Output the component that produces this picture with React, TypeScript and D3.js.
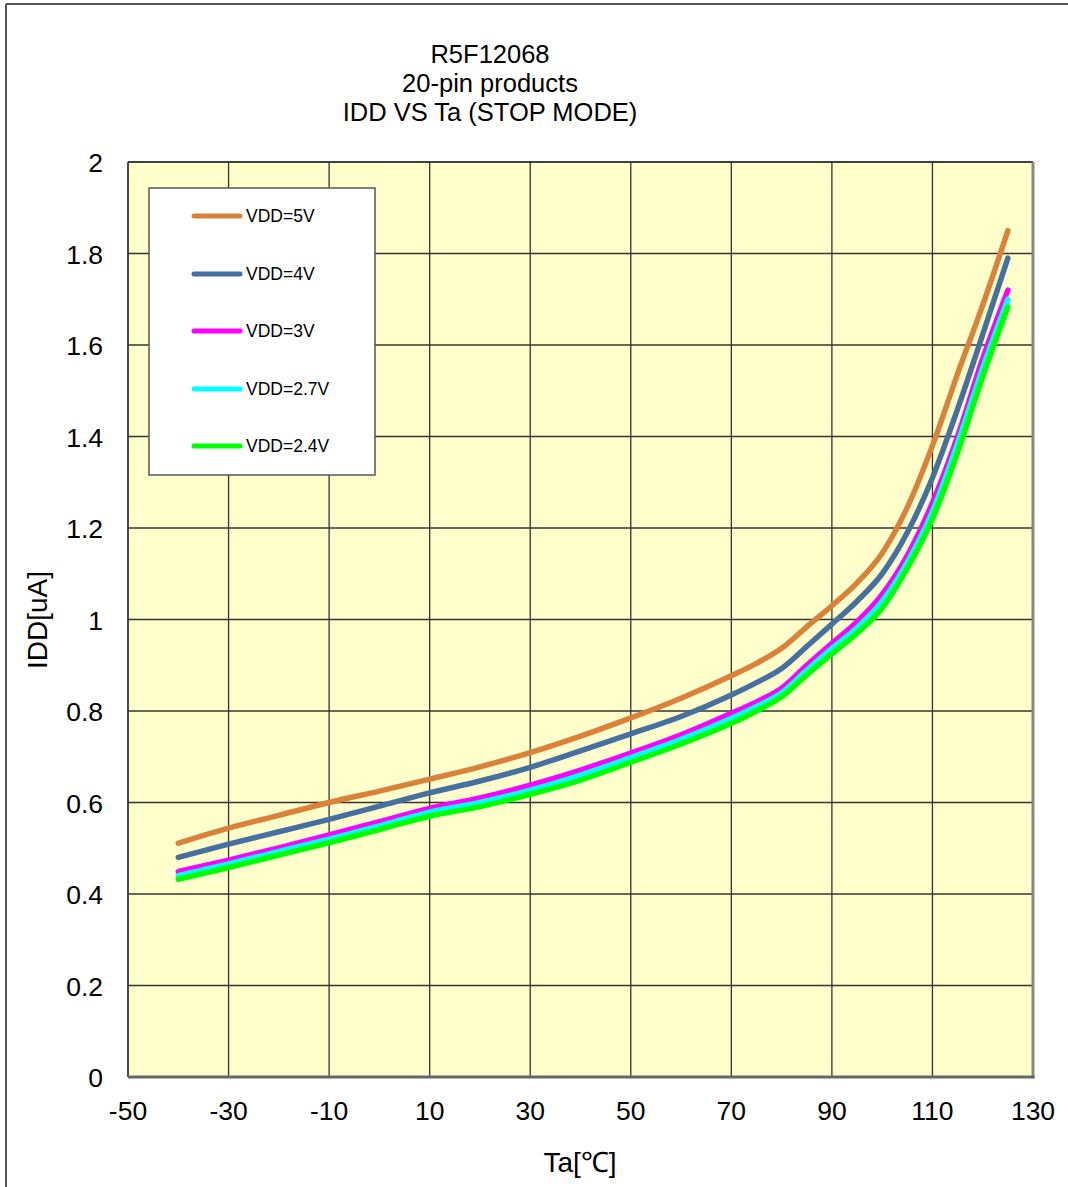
import React from "react";
import * as d3 from "d3";

const temps = [-40, -30, -20, -10, 0, 10, 20, 30, 40, 50, 60, 70, 75, 80, 85, 90, 95, 100, 105, 110, 115, 120, 125];
const vdd5 = [0.511, 0.544, 0.572, 0.600, 0.625, 0.651, 0.678, 0.709, 0.745, 0.785, 0.828, 0.877, 0.904, 0.937, 0.984, 1.03, 1.08, 1.145, 1.245, 1.38, 1.537, 1.687, 1.85];
const vdd4 = [0.480, 0.509, 0.536, 0.563, 0.592, 0.621, 0.647, 0.677, 0.713, 0.750, 0.788, 0.835, 0.862, 0.893, 0.941, 0.99, 1.04, 1.10, 1.19, 1.31, 1.46, 1.623, 1.79];
const vdd3 = [0.449, 0.474, 0.501, 0.529, 0.558, 0.587, 0.610, 0.638, 0.671, 0.708, 0.748, 0.795, 0.820, 0.850, 0.900, 0.948, 0.995, 1.055, 1.14, 1.255, 1.40, 1.57, 1.72];
const vdd27 = [0.440, 0.466, 0.493, 0.520, 0.549, 0.579, 0.600, 0.627, 0.660, 0.698, 0.738, 0.784, 0.810, 0.840, 0.889, 0.937, 0.982, 1.04, 1.125, 1.236, 1.385, 1.55, 1.70];
const vdd24 = [0.432, 0.458, 0.485, 0.512, 0.541, 0.570, 0.591, 0.618, 0.649, 0.688, 0.728, 0.773, 0.800, 0.831, 0.879, 0.925, 0.97, 1.025, 1.112, 1.22, 1.365, 1.531, 1.683];

const seriesNames = ["VDD=5V", "VDD=4V", "VDD=3V", "VDD=2.7V", "VDD=2.4V"];
const seriesValues = [vdd5, vdd4, vdd3, vdd27, vdd24];
const seriesColors = ["#DB823A", "#46709F", "#FF00FF", "#00FFFF", "#00FF00"];

const xTicks = [-50, -30, -10, 10, 30, 50, 70, 90, 110, 130];
const yTicks = [0, 0.2, 0.4, 0.6, 0.8, 1, 1.2, 1.4, 1.6, 1.8, 2];
const titleLines = ["R5F12068", "20-pin products", "IDD VS Ta (STOP MODE)"];

const FONT = "'Liberation Sans', Arial, sans-serif";

export default function App() {
  const W = 1068, H = 1187;
  const L = 128, R = 1033, T = 162, B = 1077;
  const x = d3.scaleLinear().domain([-50, 130]).range([L, R]);
  const y = d3.scaleLinear().domain([0, 2]).range([B, T]);
  const line = d3
    .line<number>()
    .x((_, i) => x(temps[i]))
    .y((d) => y(d))
    .curve(d3.curveMonotoneX);

  const legX = 149, legY = 188, legW = 226, legH = 287;
  const legRows = [216, 274, 331, 389, 446];

  return (
    <svg width={W} height={H} style={{ position: "absolute", left: 0, top: 0, background: "#fff" }} fontFamily={FONT}>
      {/* outer frame */}
      <line x1={6} y1={4} x2={W} y2={4} stroke="#555" strokeWidth={2} />
      <line x1={6} y1={4} x2={6} y2={H} stroke="#555" strokeWidth={2} />

      {/* title */}
      {titleLines.map((t, i) => (
        <text key={t} x={490} y={63 + i * 29} textAnchor="middle" fontSize={25.5} fill="#000">
          {t}
        </text>
      ))}

      {/* plot area */}
      <rect x={L} y={T} width={R - L} height={B - T} fill="#FFFFCC" />
      {xTicks.map((t) => (
        <line key={"gx" + t} x1={x(t)} x2={x(t)} y1={T} y2={B} stroke="#333" strokeWidth={1.3} />
      ))}
      {yTicks.map((t) => (
        <line key={"gy" + t} x1={L} x2={R} y1={y(t)} y2={y(t)} stroke="#333" strokeWidth={1.3} />
      ))}
      <line x1={L} x2={R} y1={T} y2={T} stroke="#333" strokeWidth={1.3} />
      <line x1={L} x2={L} y1={T} y2={B} stroke="#333" strokeWidth={1.3} />
      <line x1={R} x2={R} y1={T} y2={B + 1.5} stroke="#888" strokeWidth={3} />
      <line x1={L} x2={R + 1.5} y1={B} y2={B} stroke="#666" strokeWidth={3} />

      {/* series */}
      {seriesValues.map((vals, i) => (
        <path
          key={seriesNames[i]}
          d={line(vals) || ""}
          fill="none"
          stroke={seriesColors[i]}
          strokeWidth={5.5}
          strokeLinecap="round"
          strokeLinejoin="round"
        />
      ))}

      {/* legend */}
      <rect x={legX} y={legY} width={legW} height={legH} fill="#fff" stroke="#555" strokeWidth={1.5} />
      {seriesNames.map((n, i) => (
        <g key={"lg" + n}>
          <line x1={194} x2={240} y1={legRows[i]} y2={legRows[i]} stroke={seriesColors[i]} strokeWidth={5} strokeLinecap="round" />
          <text x={246} y={legRows[i] + 6} fontSize={17.5} fill="#000">
            {n}
          </text>
        </g>
      ))}

      {/* axis labels */}
      {yTicks.map((t) => (
        <text key={"yl" + t} x={103} y={y(t) + 10} textAnchor="end" fontSize={26.5} fill="#000">
          {d3.format("~g")(t)}
        </text>
      ))}
      {xTicks.map((t) => (
        <text key={"xl" + t} x={x(t)} y={1120} textAnchor="middle" fontSize={26.5} fill="#000">
          {t}
        </text>
      ))}
      <text x={580} y={1172} textAnchor="middle" fontSize={28} fill="#000">
        Ta[℃]
      </text>
      <text
        x={0}
        y={0}
        transform={`translate(47, ${620}) rotate(-90)`}
        textAnchor="middle"
        fontSize={28}
        fill="#000"
      >
        IDD[uA]
      </text>
    </svg>
  );
}
